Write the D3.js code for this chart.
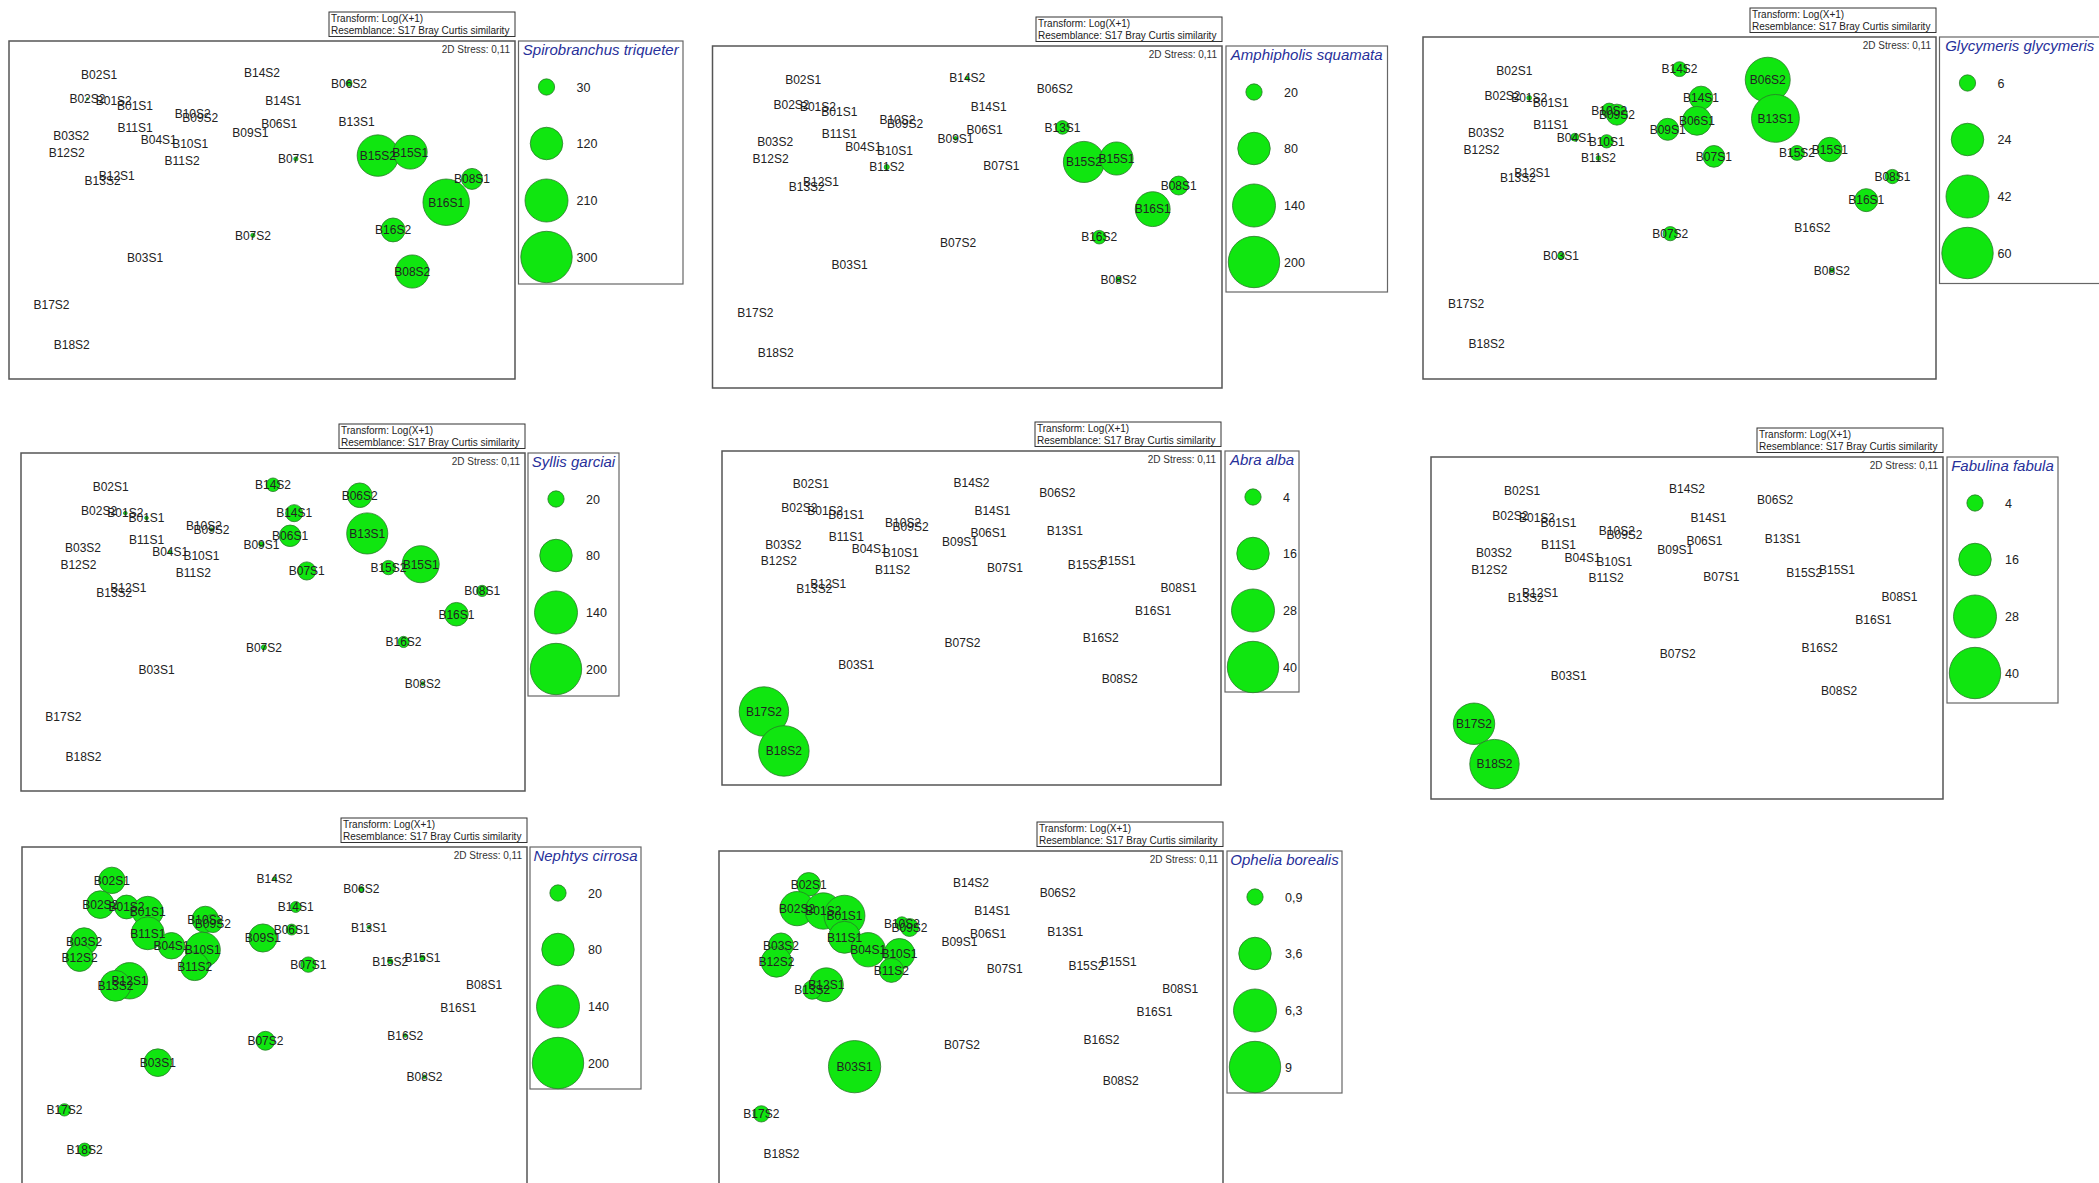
<!DOCTYPE html>
<html>
<head>
<meta charset="utf-8">
<script src="https://cdn.jsdelivr.net/npm/d3@7"></script>
<style>
  html, body { margin: 0; padding: 0; background: #ffffff; }
  svg { display: block; }
  text { font-family: Arial, "Liberation Sans", Helvetica, sans-serif; }
</style>
</head>
<body>
<svg id="chart" width="2099" height="1183"></svg>
<script>
// ---------- DATA ----------
const samples = ["B02S1","B14S2","B06S2","B02S2","B01S2","B01S1","B10S2","B09S2","B14S1","B06S1",
                 "B13S1","B09S1","B11S1","B03S2","B04S1","B10S1","B12S2","B11S2","B07S1","B15S2",
                 "B15S1","B08S1","B12S1","B13S2","B16S1","B16S2","B07S2","B03S1","B08S2","B17S2","B18S2"];
// nMDS ordination coordinates (arbitrary units, 0-100)
const mds1 = [17.8,50.0,67.2,15.5,20.7,24.9,36.3,37.8,54.2,53.4,
              68.7,47.7,24.9,12.3,29.6,35.8,11.4,34.2,56.7,72.9,
              79.3,91.5,21.3,18.5,86.4,75.9,48.2,26.9,79.7,8.4,12.4];
const mds2 = [90.1,90.6,87.5,82.9,82.2,80.8,78.5,77.3,82.2,75.5,
              76.2,73.0,74.4,72.0,70.7,69.5,67.1,64.6,65.1,66.1,
              67.1,59.2,60.3,58.8,52.3,44.1,42.5,36.0,31.8,22.0,10.2];

// species abundances per sample (same order as samples)
const spirobranchus = [0,0,4,0.5,0,0,0,0,0,0, 0,0,0,0,0,0,0,0,2,195, 130,50,0,0,245,65,2,0,125,0,0];
const amphipholis   = [0,1,0,0,0,0,0,0,0,0, 14,1,0,0,0,0,0,2,0,128, 83,27,0,0,92,14,0,0,2,0,0];
const glycymeris    = [0,5,46,0,0.5,0,5,10,12.5,19, 52,11,0,0,1.4,4,0,0.5,10.7,5, 13.5,4.6,0,0,12,0,4.6,1,0.5,0,0];
const syllis        = [0,14,46,0,1,1,0,1,22,35, 128,2,0,0,1,0,0,0,25,15.5, 104,9.5,0,0,42,9.5,2,0,1,0,0];
const abra          = [0,0,0,0,0,0,0,0,0,0, 0,0,0,0,0,0,0,0,0,0, 0,0,0,0,0,0,0,0,0,37,38.6];
const fabulina      = [0,0,0,0,0,0,0,0,0,0, 0,0,0,0,0,0,0,0,0,0, 0,0,0,0,0,0,0,0,0,26,37];
const nephtys       = [53,1,2,58,43,72,53,25,9,9, 1,60,82,56,53,93,56,62,18,2, 2,0,100,72,0,1,27,58,1,11.5,13];
const ophelia       = [1.9,0,0,4,4.5,5.7,0.6,1.1,0,0, 0,0,3.5,2.1,4,3.2,3.2,2,0,0, 0,0,3.9,1.2,0,0,0,9.3,0,0.9,0];

// legend (bubble key) values per species
const legSpiro = [30,120,210,300];
const legAmph  = [20,80,140,200];
const legGlyc  = [6,24,42,60];
const legSyll  = [20,80,140,200];
const legAbra  = [4,16,28,40];
const legFab   = [4,16,28,40];
const legNeph  = [20,80,140,200];
const legOph   = [0.9,3.6,6.3,9];

const stressText = "2D Stress: 0,11";
const transformLines = ["Transform: Log(X+1)", "Resemblance: S17 Bray Curtis similarity"];

// ---------- LAYOUT ----------
const panels = [
  {title:"Spirobranchus triqueter", values:spirobranchus, legend:legSpiro, frame:[9,41,515,379],     lbox:[518.5,41,683,284]},
  {title:"Amphipholis squamata",    values:amphipholis,   legend:legAmph,  frame:[712.5,46,1222,388], lbox:[1226,46,1387.5,292]},
  {title:"Glycymeris glycymeris",   values:glycymeris,    legend:legGlyc,  frame:[1423,37,1936,379],  lbox:[1939.5,37,2100,283.5]},
  {title:"Syllis garciai",          values:syllis,        legend:legSyll,  frame:[21,453,525,791],    lbox:[528,453,619,696]},
  {title:"Abra alba",               values:abra,          legend:legAbra,  frame:[722,451,1221,785],  lbox:[1225,451,1299,692]},
  {title:"Fabulina fabula",         values:fabulina,      legend:legFab,   frame:[1431,457,1943,799], lbox:[1947,457,2058,703]},
  {title:"Nephtys cirrosa",         values:nephtys,       legend:legNeph,  frame:[22,847,527,1184],   lbox:[530,847,641,1089]},
  {title:"Ophelia borealis",        values:ophelia,       legend:legOph,   frame:[719,851,1223,1188], lbox:[1227,851,1342,1093]}
];

const R_MAX = 25.7;
const legendOffsets = [46, 102.5, 159.5, 216];
const fmt = v => String(v).replace(".", ",");

const svg = d3.select("#chart");

panels.forEach(p => {
  const [x0, y0, x1, y1] = p.frame;
  const g = svg.append("g");

  const xs = d3.scaleLinear().domain([0, 100]).range([x0, x1]);
  const ys = d3.scaleLinear().domain([0, 100]).range([y1, y0]);
  const rs = d3.scaleSqrt().domain([0, d3.max(p.legend)]).range([0, R_MAX]);

  // transform / resemblance box
  const tb = g.append("g");
  tb.append("rect")
    .attr("x", x1 - 186).attr("y", y0 - 29)
    .attr("width", 186).attr("height", 24.5)
    .attr("fill", "#fff").attr("stroke", "#333").attr("stroke-width", 1);
  transformLines.forEach((t, i) => {
    tb.append("text")
      .attr("x", x1 - 184).attr("y", y0 - 19 + i * 11.5)
      .attr("font-size", 10).attr("fill", "#222")
      .text(t);
  });

  // plot frame
  g.append("rect")
    .attr("x", x0).attr("y", y0)
    .attr("width", x1 - x0).attr("height", y1 - y0)
    .attr("fill", "#fff").attr("stroke", "#555").attr("stroke-width", 1.5);

  g.append("text")
    .attr("x", x1 - 5).attr("y", y0 + 11.5)
    .attr("text-anchor", "end").attr("font-size", 10).attr("fill", "#333")
    .text(stressText);

  const pts = samples.map((s, i) => ({name: s, x: mds1[i], y: mds2[i], v: p.values[i]}));

  // bubbles
  g.append("g").selectAll("circle")
    .data(pts.filter(d => d.v > 0))
    .join("circle")
    .attr("cx", d => xs(d.x)).attr("cy", d => ys(d.y))
    .attr("r", d => rs(d.v))
    .attr("fill", "#10e610").attr("stroke", "#2a7a2a").attr("stroke-width", 0.8);

  // sample labels
  g.append("g").selectAll("text")
    .data(pts)
    .join("text")
    .attr("x", d => xs(d.x)).attr("y", d => ys(d.y))
    .attr("dy", "0.36em")
    .attr("text-anchor", "middle")
    .attr("font-size", 12).attr("fill", "#222")
    .text(d => d.name);

  // legend box
  const [lx0, ly0, lx1, ly1] = p.lbox;
  const lg = g.append("g");
  lg.append("rect")
    .attr("x", lx0).attr("y", ly0)
    .attr("width", lx1 - lx0).attr("height", ly1 - ly0)
    .attr("fill", "#fff").attr("stroke", "#666").attr("stroke-width", 1.2);
  lg.append("text")
    .attr("x", (lx0 + lx1) / 2).attr("y", ly0 + 13.5)
    .attr("text-anchor", "middle")
    .attr("font-size", 15).attr("font-style", "italic").attr("fill", "#27309a")
    .text(p.title);
  lg.selectAll("circle.key")
    .data(p.legend)
    .join("circle")
    .attr("class", "key")
    .attr("cx", lx0 + 28).attr("cy", (d, i) => ly0 + legendOffsets[i])
    .attr("r", d => rs(d))
    .attr("fill", "#10e610").attr("stroke", "#2a7a2a").attr("stroke-width", 0.8);
  lg.selectAll("text.keylab")
    .data(p.legend)
    .join("text")
    .attr("class", "keylab")
    .attr("x", lx0 + 58).attr("y", (d, i) => ly0 + legendOffsets[i])
    .attr("dy", "0.36em")
    .attr("font-size", 12.5).attr("fill", "#222")
    .text(d => fmt(d));
});
</script>
</body>
</html>
